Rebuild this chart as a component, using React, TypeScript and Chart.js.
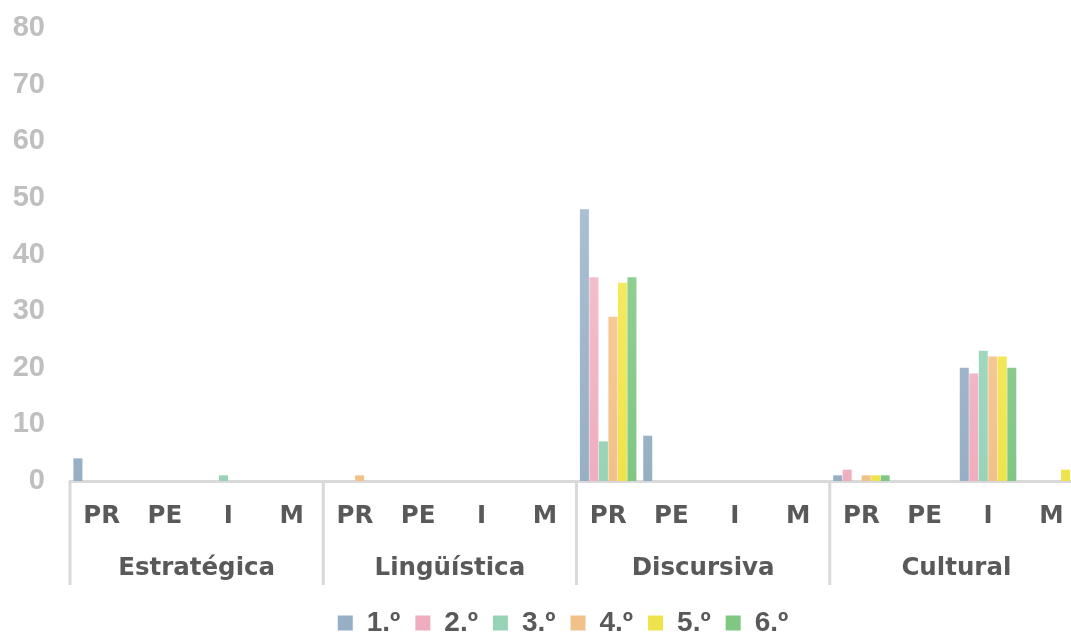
import React, { useEffect, useRef } from "react";
import { Chart, registerables } from "chart.js";

Chart.register(...registerables);

const subCategories = [
  "PR", "PE", "I", "M",
  "PR", "PE", "I", "M",
  "PR", "PE", "I", "M",
  "PR", "PE", "I", "M",
];
const groupLabels = ["Estratégica", "Lingüística", "Discursiva", "Cultural"];
const seriesNames = ["1.º", "2.º", "3.º", "4.º", "5.º", "6.º"];

const serie1 = [4, 0, 0, 0, 0, 0, 0, 0, 48, 8, 0, 0, 1, 0, 20, 0];
const serie2 = [0, 0, 0, 0, 0, 0, 0, 0, 36, 0, 0, 0, 2, 0, 19, 0];
const serie3 = [0, 0, 1, 0, 0, 0, 0, 0, 7, 0, 0, 0, 0, 0, 23, 0];
const serie4 = [0, 0, 0, 0, 1, 0, 0, 0, 29, 0, 0, 0, 1, 0, 22, 0];
const serie5 = [0, 0, 0, 0, 0, 0, 0, 0, 35, 0, 0, 0, 1, 0, 22, 2];
const serie6 = [0, 0, 0, 0, 0, 0, 0, 0, 36, 0, 0, 0, 1, 0, 20, 0];

const yTicks = [0, 10, 20, 30, 40, 50, 60, 70, 80];

const colorsTop = ["#b6cadb", "#fbcfda", "#b4e2cc", "#fed8a8", "#fbf276", "#a0daa2"];
const colorsBottom = ["#97afc4", "#eeaec0", "#98d3b8", "#f2c189", "#efe34c", "#80c784"];

const allSeries = [serie1, serie2, serie3, serie4, serie5, serie6];

function gradient(i: number) {
  return (ctx: any) => {
    const chart = ctx.chart;
    const area = chart.chartArea;
    if (!area) return colorsBottom[i];
    const g = chart.ctx.createLinearGradient(0, area.top, 0, area.bottom);
    g.addColorStop(0, colorsTop[i]);
    g.addColorStop(1, colorsBottom[i]);
    return g;
  };
}

const separatorPlugin = {
  id: "groupSeparators",
  afterLayout(chart: any) {
    const lg = chart.legend;
    if (lg) lg.left += 30;
  },
  afterDraw(chart: any) {
    const x = chart.scales.x;
    const x2 = chart.scales.x2;
    if (!x || !x2) return;
    const c = chart.ctx;
    c.save();
    c.strokeStyle = "#d9d9d9";
    c.lineWidth = 3;
    for (let i = 0; i <= groupLabels.length; i++) {
      const px = x2.getPixelForValue(i - 0.5);
      c.beginPath();
      c.moveTo(px, x.top);
      c.lineTo(px, x2.top + 54);
      c.stroke();
    }
    c.restore();
  },
};

const labelFont = { family: "'DejaVu Sans', sans-serif", size: 24.5, weight: "bold" };

export default function App() {
  const ref = useRef<HTMLCanvasElement | null>(null);

  useEffect(() => {
    if (!ref.current) return;
    const chart = new Chart(ref.current, {
      type: "bar",
      data: {
        labels: subCategories,
        datasets: allSeries.map((s, i) => ({
          label: seriesNames[i],
          data: s,
          backgroundColor: gradient(i),
          borderWidth: 0,
          categoryPercentage: 0.9,
          barPercentage: 0.95,
          xAxisID: "x",
        })),
      },
      plugins: [separatorPlugin],
      options: {
        animation: false,
        responsive: true,
        maintainAspectRatio: false,
        layout: { padding: { left: 13, right: 7, top: 28, bottom: -12 } },
        plugins: {
          tooltip: { enabled: false },
          legend: {
            position: "bottom",
            labels: {
              color: "#595959",
              font: { family: "'Liberation Sans', Arial, sans-serif", size: 28, weight: "bold" },
              boxWidth: 15,
              boxHeight: 15,
              padding: 15,
            },
          },
        },
        scales: {
          y: {
            min: 0,
            max: 80,
            afterBuildTicks: (axis: any) => {
              axis.ticks = yTicks.map((v) => ({ value: v }));
            },
            afterFit: (axis: any) => {
              axis.width = 57;
              axis.paddingTop = 0;
              axis.paddingBottom = 0;
            },
            grid: { display: false, drawTicks: false },
            border: { display: false },
            ticks: {
              color: "#bfbfbf",
              padding: 25,
              font: { family: "'Liberation Sans', Arial, sans-serif", size: 29, weight: "bold" },
            },
          },
          x: {
            type: "category",
            position: "bottom",
            offset: true,
            afterFit: (axis: any) => {
              axis.height = 50;
              axis.paddingLeft = 0;
              axis.paddingRight = 0;
            },
            border: { display: true, color: "#d9d9d9", width: 3 },
            grid: { display: false, drawTicks: false },
            ticks: {
              color: "#595959",
              padding: 21,
              autoSkip: false,
              maxRotation: 0,
              font: labelFont,
            },
          },
          x2: {
            type: "category",
            position: "bottom",
            labels: groupLabels,
            offset: true,
            afterFit: (axis: any) => {
              axis.height = 63;
              axis.paddingLeft = 0;
              axis.paddingRight = 0;
            },
            border: { display: false },
            grid: { display: false, drawTicks: false },
            ticks: {
              color: "#595959",
              padding: 23,
              autoSkip: false,
              maxRotation: 0,
              font: labelFont,
            },
          },
        },
      } as any,
    });
    return () => chart.destroy();
  }, []);

  return (
    <div
      style={{
        position: "fixed",
        left: 0,
        top: 0,
        width: 1071,
        height: 635,
        overflow: "hidden",
        background: "#ffffff",
      }}
    >
      <div style={{ position: "relative", width: 1090, height: 635 }}>
        <canvas ref={ref} />
      </div>
    </div>
  );
}
